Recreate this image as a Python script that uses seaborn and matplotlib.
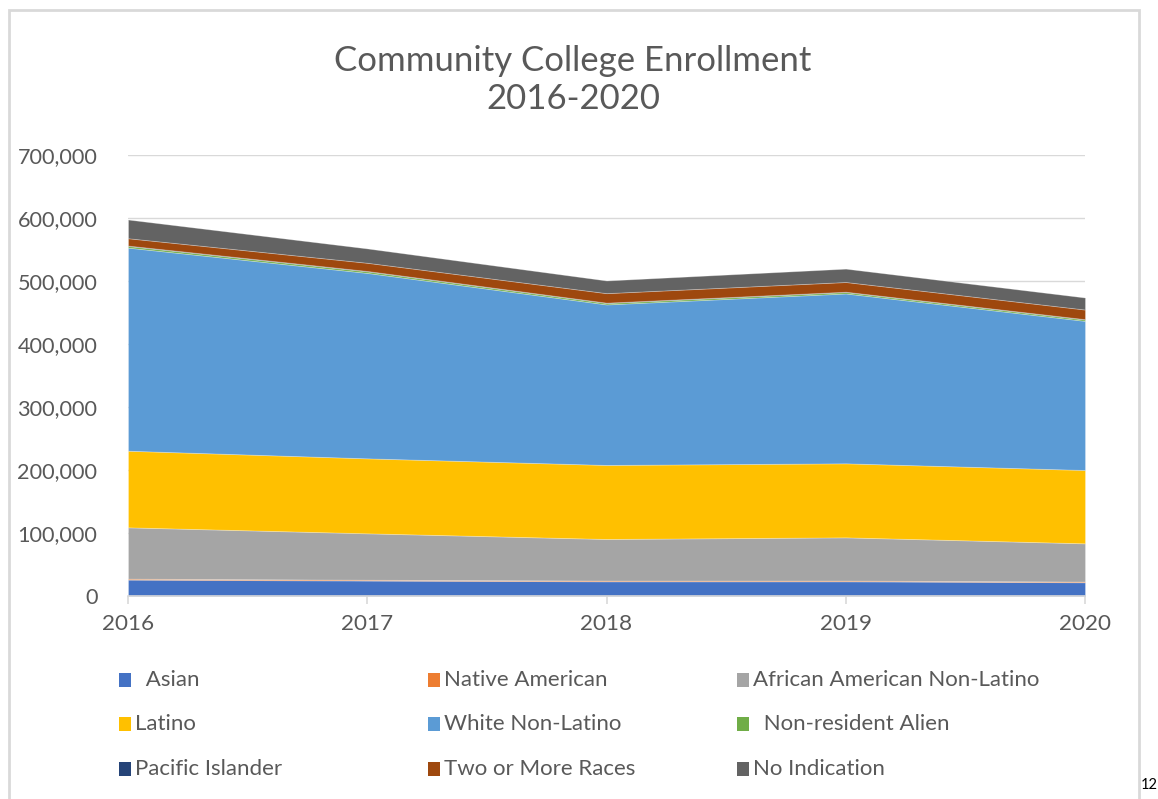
import matplotlib
matplotlib.use("Agg")
import matplotlib.pyplot as plt
import seaborn as sns
import pandas as pd
from matplotlib.patches import Rectangle
from matplotlib.ticker import FuncFormatter

years = [2016, 2017, 2018, 2019, 2020]
asian = [26000, 24500, 23300, 23300, 21800]
native_american = [1500, 1300, 1200, 1200, 1100]
african_american = [81500, 73700, 66000, 68600, 60700]
latino = [121600, 119000, 117500, 117500, 116400]
white = [322400, 294300, 254800, 269600, 236700]
non_resident_alien = [2600, 2500, 2300, 2300, 2200]
pacific_islander = [600, 600, 500, 500, 500]
two_or_more = [11700, 13000, 15100, 15400, 15300]
no_indication = [29700, 22800, 20100, 21200, 19100]

series_names = [" Asian", "Native American", "African American Non-Latino",
                "Latino", "White Non-Latino", " Non-resident Alien",
                "Pacific Islander", "Two or More Races", "No Indication"]
colors = ["#4472C4", "#ED7D31", "#A5A5A5", "#FFC000", "#5B9BD5",
          "#70AD47", "#264478", "#9E480E", "#636363"]

df = pd.DataFrame({
    "year": years,
    series_names[0]: asian,
    series_names[1]: native_american,
    series_names[2]: african_american,
    series_names[3]: latino,
    series_names[4]: white,
    series_names[5]: non_resident_alien,
    series_names[6]: pacific_islander,
    series_names[7]: two_or_more,
    series_names[8]: no_indication,
})

sns.set_theme(style="white")
plt.rcParams["font.family"] = ["Lato", "DejaVu Sans"]
text_color = "#595959"

W, H = 1158, 799
fig = plt.figure(figsize=(W / 100, H / 100), dpi=100)
fig.patch.set_facecolor("white")

# chart border
fig.patches.append(Rectangle((9 / W, -0.01), (1139 - 9) / W, 1 - 10 / H + 0.01,
                             transform=fig.transFigure, fill=False,
                             edgecolor="#D9D9D9", linewidth=2))

ax = fig.add_axes([128 / W, 1 - 596 / H, (1085 - 128) / W, (596 - 155) / H])
ax.stackplot(df["year"], [df[n] for n in series_names], colors=colors,
             labels=series_names, linewidth=0.6, edgecolor=(1, 1, 1, 0.3))
ax.set_xlim(2016, 2020)
ax.set_ylim(0, 700000)
ax.set_yticks(range(0, 700001, 100000))
ax.set_xticks(years)
ax.yaxis.set_major_formatter(FuncFormatter(lambda v, p: f"{int(v):,}"))
ax.grid(axis="y", color="#D9D9D9", linewidth=1)
ax.grid(axis="x", visible=False)
ax.set_axisbelow(True)
for s in ["top", "right", "left"]:
    ax.spines[s].set_visible(False)
ax.spines["bottom"].set_color("#D9D9D9")
ax.spines["bottom"].set_linewidth(1.2)
ax.tick_params(axis="y", length=0, pad=22, labelsize=15.6, labelcolor=text_color)
ax.tick_params(axis="x", length=6, width=1.2, color="#D9D9D9", direction="out",
               pad=7, labelsize=16.2, labelcolor=text_color, bottom=True)
ax.set_xlabel("")
ax.set_ylabel("")

fig.text(573 / W, 1 - 80 / H, "Community College Enrollment\n2016-2020",
         ha="center", va="center", fontsize=25, color=text_color,
         linespacing=1.2)

# legend (row-wise layout)
col_x = [119, 428, 737]
row_y = [680, 724, 769]
for i, (name, c) in enumerate(zip(series_names, colors)):
    r, k = divmod(i, 3)
    x0, y0 = col_x[k], row_y[r]
    fig.patches.append(Rectangle((x0 / W, 1 - (y0 + 7) / H), 12 / W, 14 / H,
                                 transform=fig.transFigure, facecolor=c,
                                 edgecolor="none"))
    extra = 5 if name.startswith(" ") else 0
    fig.text((x0 + 16 + extra) / W, 1 - y0 / H, name, ha="left", va="center",
             fontsize=16, color=text_color)

fig.text(1141 / W, 1 - 785 / H, "12", ha="left", va="center", fontsize=10.5,
         color="black")

fig.savefig("out.png", dpi=100)
